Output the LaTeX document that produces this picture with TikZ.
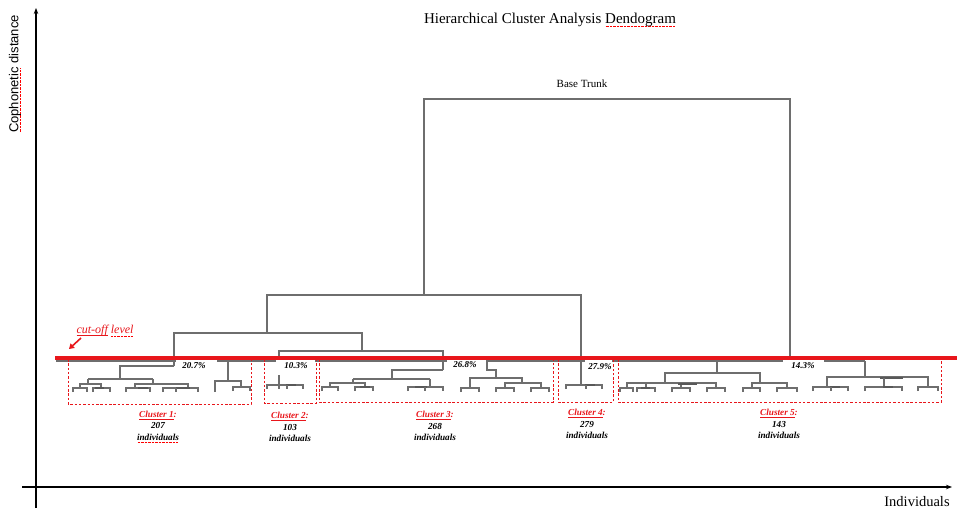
\documentclass[tikz,border=0pt]{standalone}
\usepackage{fontspec}
\setmainfont{Liberation Serif}
\setsansfont{Liberation Sans}
\usetikzlibrary{arrows.meta}
\definecolor{dgrey}{HTML}{6E6E6E}
\definecolor{cutred}{HTML}{E8161B}
\newcommand\myul[1]{\leavevmode\setbox0\hbox{#1}\rlap{\rule[-1.6pt]{\wd0}{0.5pt}}\box0\relax}
\newcommand\spellu[1]{\leavevmode\setbox0\hbox{#1}\rlap{\textcolor{red}{\hbox to \wd0{\cleaders\hbox{\rule[-2.4pt]{0.9pt}{0.45pt}\hskip0.5pt}\hfill}}}\box0\relax}
\newcommand\lbr[3]{\draw[dend] (#1,#3+4) -- (#1,#3) -- (#2,#3) -- (#2,#3+4);}
\tikzset{
  dend/.style={draw=dgrey, line width=1.2pt},
  thickbar/.style={draw=dgrey!80!black, line width=2.2pt},
  cbox/.style={draw=cutred, line width=0.7pt, dash pattern=on 2.5pt off 1.8pt},
  pct/.style={font=\fontsize{9}{10}\selectfont\bfseries\itshape, inner sep=0pt},
  clab/.style={font=\fontsize{9.2}{11.3}\selectfont\bfseries\itshape, align=center, inner sep=0pt},
  wbox/.style={fill=white, draw=none},
  axis/.style={line width=1.1pt, -{Stealth[length=6pt,width=4.5pt]}}
}
\begin{document}
\begin{tikzpicture}[x=1pt,y=-1pt]
\useasboundingbox (0,0) rectangle (957,510);
% axes
\draw[axis] (36,508) -- (36,8);
\draw[axis] (22,487) -- (952,487);
\node[rotate=90, font=\fontsize{13}{15}\selectfont\sffamily] (ylab) at (15,74) {\spellu{Cophonetic} distance};
\node[font=\fontsize{14.5}{16}\selectfont] (xlab) at (917,502) {Individuals};
\node[font=\fontsize{15}{18}\selectfont] (title) at (550,20) {Hierarchical Cluster Analysis \spellu{Dendogram}};
\node[font=\fontsize{11}{13}\selectfont] (trunk) at (582,84) {Base Trunk};
% top-level tree
\draw[dend] (424,295) -- (424,99) -- (790,99) -- (790,361);
\draw[dend] (581,385) -- (581,295) -- (267,295) -- (267,333);
\draw[dend] (174,366) -- (174,333) -- (362,333) -- (362,351);
\draw[dend] (279,385) -- (279,351) -- (443,351) -- (443,370);
% grey line at the cut level
\draw[dend, line width=1.6pt] (56,361) -- (865,361);
% cluster 1
\draw[dend] (174,366) -- (120,366) -- (120,379);
\draw[dend] (88,379) -- (153,379);
\draw[dend] (88,379) -- (88,384);
\draw[dend] (80,388) -- (80,384) -- (101,384) -- (101,388);
\lbr{73}{87}{388} \lbr{93}{110}{388}
\draw[thickbar] (95,388) -- (104,388);
\draw[dend] (153,379) -- (153,384);
\draw[dend] (135,388) -- (135,384) -- (188,384) -- (188,388);
\lbr{126}{150}{388} \lbr{163}{198}{388}
\draw[thickbar] (138,388) -- (148,388);
\draw[thickbar] (176,388) -- (190,388);
\draw[dend] (176,388) -- (176,392);
\draw[dend] (228,361) -- (228,381);
\draw[dend] (215,392) -- (215,381) -- (241,381) -- (241,387);
\lbr{233}{250}{387}
% cluster 2
\draw[dend] (279,385) -- (279,389);
\lbr{267}{303}{385}
\draw[thickbar] (286,385) -- (296,385);
\draw[dend] (287,385) -- (287,389);
% cluster 3
\draw[dend] (443,370) -- (392,370) -- (392,379);
\draw[dend] (353,379) -- (430,379);
\draw[dend] (353,379) -- (353,383);
\draw[dend] (330,387) -- (330,383) -- (365,383) -- (365,387);
\lbr{322}{338}{387} \lbr{355}{373}{387}
\draw[thickbar] (360,387) -- (370,387);
\draw[dend] (430,379) -- (430,387);
\lbr{408}{443}{387}
\draw[thickbar] (415,387) -- (427,387);
\draw[dend] (425,387) -- (425,391);
\draw[dend] (487,361) -- (487,370) -- (496,370) -- (496,378);
\draw[dend] (470,388) -- (470,378) -- (522,378) -- (522,383);
\lbr{461}{479}{388}
\draw[dend] (505,388) -- (505,383) -- (541,383) -- (541,388);
\lbr{496}{514}{388} \lbr{531}{549}{388}
% cluster 4
\lbr{566}{602}{385}
\draw[thickbar] (585,385) -- (595,385);
\draw[dend] (586,385) -- (586,389);
% cluster 5
\draw[dend] (717,361) -- (717,373);
\draw[dend] (665,383) -- (665,373) -- (760,373) -- (760,383);
\draw[dend] (627,388) -- (627,383) -- (716,383) -- (716,388);
\draw[dend] (646,383) -- (646,388);
\draw[dend] (681,383) -- (681,388);
\draw[thickbar] (678,384) -- (697,384);
\lbr{620}{633}{388} \lbr{637}{655}{388} \lbr{672}{690}{388} \lbr{707}{725}{388}
\draw[thickbar] (641,388) -- (650,388);
\draw[dend] (752,388) -- (752,383) -- (787,383) -- (787,388);
\lbr{743}{760}{388} \lbr{777}{797}{388}
\draw[dend] (865,361) -- (865,377);
\draw[dend] (827,387) -- (827,377) -- (928,377) -- (928,387);
\draw[thickbar] (880,378) -- (903,378);
\lbr{813}{848}{387}
\draw[thickbar] (830,387) -- (840,387);
\draw[dend] (831,387) -- (831,391);
\draw[dend] (884,378) -- (884,387);
\lbr{865}{902}{387}
\draw[thickbar] (883,387) -- (893,387);
\lbr{918}{938}{387}
% white label boxes and percentages
\fill[wbox] (176,360) rectangle (217,373);
\fill[wbox] (276,360) rectangle (315,375);
\fill[wbox] (447,360) rectangle (486,372);
\fill[wbox] (585,360) rectangle (612,373);
\fill[wbox] (783,360) rectangle (824,372);
\node[pct] (p1) at (194,365.5) {20.7\%};
\node[pct] (p2) at (296,365.5) {10.3\%};
\node[pct] (p3) at (465,364.5) {26.8\%};
\node[pct] (p4) at (600,367) {27.9\%};
\node[pct] (p5) at (803,366) {14.3\%};
% cluster boxes
\draw[cbox] (68,359) rectangle (251,404);
\draw[cbox] (264,359) rectangle (316,403);
\draw[cbox] (319,359) rectangle (553,402);
\draw[cbox] (558,359) rectangle (613,402);
\draw[cbox] (618,359) rectangle (941,402);
% cut-off line
\draw[cutred, line width=3.2pt] (55,358) -- (957,358);
\node[font=\fontsize{12}{14}\selectfont\itshape, text=cutred] (cutlab) at (105,331) {\myul{cut-off} \spellu{level}};
\coordinate (arrs) at (81,338);
\coordinate (arre) at (69,349);
\draw[cutred, line width=1.6pt, -{Triangle[length=5pt,width=6pt]}] (arrs) -- (arre);
% cluster labels
\node[clab] (c1) at (158,427) {\textcolor{cutred}{\myul{Cluster 1}:}\\207\\\spellu{individuals}};
\node[clab] (c2) at (290,427) {\textcolor{cutred}{\myul{Cluster 2}:}\\103\\individuals};
\node[clab] (c3) at (435,426) {\textcolor{cutred}{\myul{Cluster 3}:}\\268\\individuals};
\node[clab] (c4) at (587,424) {\textcolor{cutred}{\myul{Cluster 4}:}\\279\\individuals};
\node[clab] (c5) at (779,424) {\textcolor{cutred}{\myul{Cluster 5}:}\\143\\individuals};
\end{tikzpicture}
\end{document}
